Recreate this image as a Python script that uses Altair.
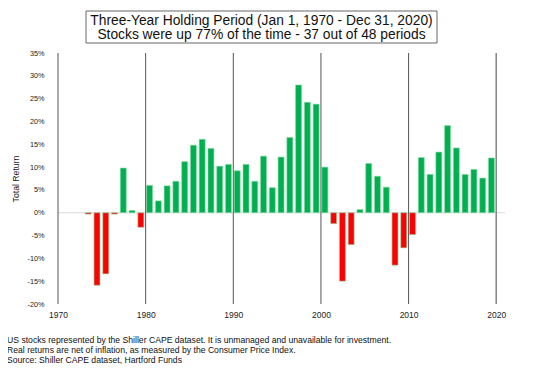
import altair as alt
import pandas as pd

years = list(range(1973, 2020))
returns = [
    -0.3, -15.9, -13.4, -0.3, 9.8, 0.5, -3.2,            # 1973-1979
    6.0, 2.6, 5.9, 6.9, 11.2, 14.8, 16.1, 14.1, 10.2, 10.6,  # 1980-1989
    9.2, 10.6, 6.9, 12.4, 5.5, 12.2, 16.5, 28.0, 24.2, 23.8,  # 1990-1999
    10.0, -2.4, -15.0, -7.0, 0.7, 10.8, 8.0, 5.6, -11.5, -7.7,  # 2000-2009
    -4.8, 12.1, 8.4, 13.3, 19.1, 14.2, 8.4, 9.5, 7.6, 12.0,  # 2010-2019
]
decades = [1980, 1990, 2000, 2010]
title_lines = [
    "Three-Year Holding Period (Jan 1, 1970 - Dec 31, 2020)",
    "Stocks were up 77% of the time - 37 out of 48 periods",
]
notes = [
    "US stocks represented by the Shiller CAPE dataset. It is unmanaged and unavailable for investment.",
    "Real returns are net of inflation, as measured by the Consumer Price Index.",
    "Source: Shiller CAPE dataset, Hartford Funds",
]

df = pd.DataFrame({"year": years, "ret": returns})
df["x"] = df["year"] + 0.45
df["sign"] = ["up" if r >= 0 else "down" for r in returns]

FONT = "Liberation Sans"
W, H = 457, 251

xscale = alt.Scale(domain=[1970, 2021], nice=False, zero=False)
yscale = alt.Scale(domain=[-20, 35], nice=False)

xaxis = alt.Axis(values=[1970, 1980, 1990, 2000, 2010, 2020], format="d",
                 title=None, domain=False, ticks=False, grid=False,
                 labelFont=FONT, labelFontSize=8.5, labelColor="#222",
                 labelPadding=6)
yaxis = alt.Axis(values=list(range(-20, 40, 5)), title="Total Return",
                 labelExpr="datum.value + '%'",
                 grid=False, ticks=False, domain=False,
                 labelFont=FONT, labelFontSize=7.3, labelColor="#222",
                 labelPadding=9, titleFont=FONT, titleFontSize=8.7,
                 titleFontWeight="normal", titleColor="#222",
                 titlePadding=6)

bars = alt.Chart(df).mark_bar(size=6, stroke="#8fdcaa", strokeWidth=0.6).encode(
    x=alt.X("x:Q", scale=xscale, axis=xaxis),
    y=alt.Y("ret:Q", scale=yscale, axis=yaxis),
    y2=alt.datum(0),
    color=alt.Color("sign:N", scale=alt.Scale(domain=["up", "down"],
                                              range=["#00B050", "#FF0000"]),
                    legend=None),
)

zero_df = pd.DataFrame({"a": [1970], "b": [2021], "y": [0]})
zero = alt.Chart(zero_df).mark_rule(color="#d9d9d9", strokeWidth=1).encode(
    x=alt.X("a:Q", scale=xscale, axis=xaxis), x2="b:Q",
    y=alt.Y("y:Q", scale=yscale, axis=yaxis))

dec_df = pd.DataFrame({"year": [1970] + decades})
dec_lines = alt.Chart(dec_df).mark_rule(color="#555555", strokeWidth=1).encode(
    x=alt.X("year:Q", scale=xscale, axis=xaxis), y=alt.value(0), y2=alt.value(H))

end_df = pd.DataFrame({"year": [2020]})
end_line = alt.Chart(end_df).mark_rule(color="#8a8a8a", strokeWidth=1.6).encode(
    x=alt.X("year:Q", scale=xscale, axis=xaxis), y=alt.value(0), y2=alt.value(H))

one = pd.DataFrame({"k": [0]})
box = alt.Chart(one).mark_rect(
    fill="white", stroke="#666666", strokeWidth=1).encode(
    x=alt.value(33), x2=alt.value(384), y=alt.value(-42), y2=alt.value(-10))

layers = [zero, bars, dec_lines, end_line, box]

title_y = [-28.3, -13.7]
for t, yy in zip(title_lines, title_y):
    layers.append(alt.Chart(one).mark_text(
        font=FONT, fontSize=13.8, color="#111", align="center", baseline="alphabetic",
        text=t).encode(x=alt.value(208.5), y=alt.value(yy)))

note_y = [286.9, 297.1, 307.4]
for t, yy in zip(notes, note_y):
    layers.append(alt.Chart(one).mark_text(
        font=FONT, fontSize=8.65, color="#111", align="left", baseline="middle",
        text=t).encode(x=alt.value(-46), y=alt.value(yy)))

chart = alt.layer(*layers).properties(
    width=W, height=H,
    padding={"left": 45, "top": 45, "right": 22, "bottom": 60},
    autosize=alt.AutoSizeParams(type="none"),
    background="white",
).configure_view(stroke=None)

chart.save("out.html", embed_options={"renderer": "svg", "actions": False})
